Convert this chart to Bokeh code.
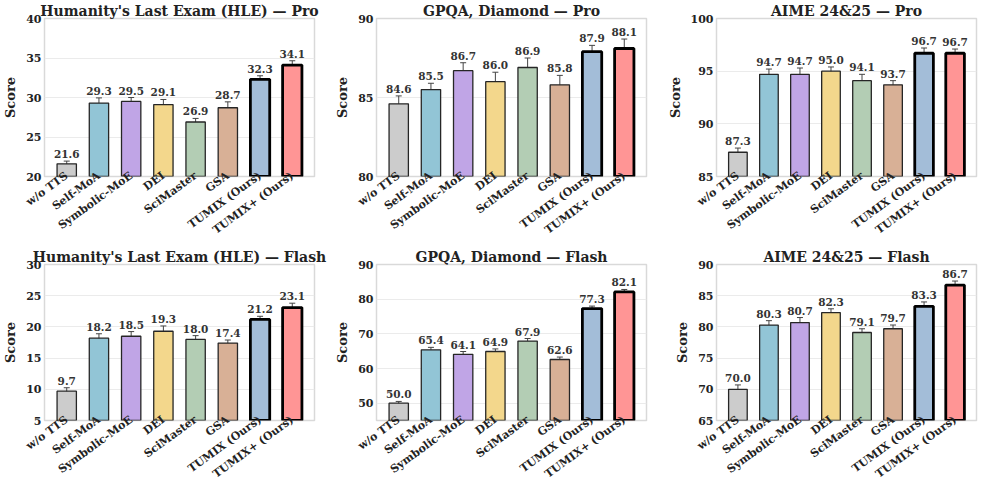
import math
from bokeh.plotting import figure
from bokeh.layouts import gridplot
from bokeh.models import Range1d, FixedTicker, Whisker, ColumnDataSource, TeeHead
from bokeh.core.properties import value
from bokeh.embed import file_html
from bokeh.resources import INLINE

methods = ["w/o TTS", "Self-MoA", "Symbolic-MoE", "DEI", "SciMaster", "GSA",
           "TUMIX (Ours)", "TUMIX+ (Ours)"]
colors = ["#cccccc", "#92c5d6", "#c0a5e6", "#f3d78c", "#b3cdb4", "#d8b096",
          "#a3bdd8", "#ff9595"]

hle_pro = [21.6, 29.3, 29.5, 29.1, 26.9, 28.7, 32.3, 34.1]
hle_pro_err = [0.35, 0.65, 0.5, 0.65, 0.45, 0.75, 0.45, 0.55]
gpqa_pro = [84.6, 85.5, 86.7, 86.0, 86.9, 85.8, 87.9, 88.1]
gpqa_pro_err = [0.5, 0.4, 0.5, 0.6, 0.6, 0.6, 0.4, 0.6]
aime_pro = [87.3, 94.7, 94.7, 95.0, 94.1, 93.7, 96.7, 96.7]
aime_pro_err = [0.4, 0.5, 0.6, 0.4, 0.6, 0.4, 0.5, 0.4]
hle_flash = [9.7, 18.2, 18.5, 19.3, 18.0, 17.4, 21.2, 23.1]
hle_flash_err = [0.55, 0.7, 0.75, 0.85, 0.6, 0.5, 0.5, 0.7]
gpqa_flash = [50.0, 65.4, 64.1, 64.9, 67.9, 62.6, 77.3, 82.1]
gpqa_flash_err = [0.5, 0.7, 0.8, 0.75, 0.75, 0.7, 0.7, 0.7]
aime_flash = [70.0, 80.3, 80.7, 82.3, 79.1, 79.7, 83.3, 86.7]
aime_flash_err = [0.7, 0.7, 0.8, 0.6, 0.6, 0.6, 0.7, 0.65]

panels = [
    ("Humanity's Last Exam (HLE) \u2014 Pro", hle_pro, hle_pro_err, (20, 40), [20, 25, 30, 35, 40]),
    ("GPQA, Diamond \u2014 Pro", gpqa_pro, gpqa_pro_err, (80, 90), [80, 85, 90]),
    ("AIME 24&25 \u2014 Pro", aime_pro, aime_pro_err, (85, 100), [85, 90, 95, 100]),
    ("Humanity's Last Exam (HLE) \u2014 Flash", hle_flash, hle_flash_err, (5, 30), [5, 10, 15, 20, 25, 30]),
    ("GPQA, Diamond \u2014 Flash", gpqa_flash, gpqa_flash_err, (45, 90), [50, 60, 70, 80, 90]),
    ("AIME 24&25 \u2014 Flash", aime_flash, aime_flash_err, (65, 90), [65, 70, 75, 80, 85, 90]),
]

FONT = "DejaVu Serif"
FONT_V = value(FONT)
widths = [332, 332, 315]
heights = [244, 244]
tops = [14, 20]
bottoms = [40, 40]
ANGLE = 0.63


def make_panel(idx, title, vals, errs, yr, yticks):
    r, c = divmod(idx, 3)
    p = figure(width=widths[c], height=heights[r], output_backend="svg",
               toolbar_location=None, x_range=Range1d(-0.69, 7.69),
               y_range=Range1d(*yr), min_border_left=38,
               min_border_right=18 if c < 2 else 3,
               min_border_top=tops[r], min_border_bottom=bottoms[r])
    xs = list(range(len(methods)))
    lw = [1.3] * 6 + [2.8, 2.8]
    lc = ["#262626"] * 6 + ["#000000", "#000000"]
    src = ColumnDataSource(dict(
        x=xs, top=vals, color=colors, lw=lw, lc=lc,
        upper=[v + e for v, e in zip(vals, errs)],
        lower=[v - e for v, e in zip(vals, errs)],
        label=["%.1f" % v for v in vals]))
    p.vbar(x="x", top="top", bottom=yr[0] - 10, width=0.6, fill_color="color",
           line_color="lc", line_width="lw", source=src)
    w = Whisker(base="x", upper="upper", lower="lower", source=src,
                line_color="#444444", line_width=1.0,
                upper_head=TeeHead(size=6, line_color="#444444", line_width=1.0),
                lower_head=TeeHead(size=6, line_color="#444444", line_width=1.0))
    p.add_layout(w)
    p.text(x="x", y="upper", text="label", source=src, text_align="center",
           text_baseline="bottom", y_offset=-3, text_font=FONT_V,
           text_font_style="bold", text_font_size="10.5px", text_color="#333333")

    p.title.text = title
    p.title.align = "center"
    p.title.text_font = FONT
    p.title.text_font_style = "bold"
    p.title.text_font_size = "14px"
    p.title.text_color = "#222222"
    p.title.standoff = 0

    p.xaxis.ticker = FixedTicker(ticks=xs)
    p.xaxis.major_label_overrides = {i: m for i, m in enumerate(methods)}
    p.xaxis.major_label_orientation = ANGLE
    p.xaxis.major_label_text_font = FONT
    p.xaxis.major_label_text_font_style = "bold"
    p.xaxis.major_label_text_font_size = "11px"
    p.xaxis.major_label_text_color = "#222222"
    p.xaxis.major_label_text_line_height = 0.5
    p.xaxis.major_label_standoff = -2
    p.yaxis.ticker = FixedTicker(ticks=yticks)
    p.yaxis.major_label_text_font = FONT
    p.yaxis.major_label_text_font_style = "bold"
    p.yaxis.major_label_text_font_size = "11px"
    p.yaxis.major_label_text_color = "#222222"
    p.yaxis.major_label_standoff = 3
    p.yaxis.axis_label = "Score"
    p.yaxis.axis_label_text_font = FONT
    p.yaxis.axis_label_text_font_style = "bold"
    p.yaxis.axis_label_text_font_size = "13px"
    p.yaxis.axis_label_text_color = "#222222"
    p.yaxis.axis_label_standoff = 5
    for ax in (p.xaxis, p.yaxis):
        ax.axis_line_color = None
        ax.major_tick_line_color = None
        ax.minor_tick_line_color = None
        ax.major_tick_out = 0
        ax.major_tick_in = 0
        ax.minor_tick_out = 0
        ax.minor_tick_in = 0
    p.xgrid.visible = False
    p.ygrid.grid_line_color = "#ebebeb"
    p.ygrid.grid_line_width = 1
    p.outline_line_color = "#d9d9d9"
    p.outline_line_width = 1.5
    p.outline_line_alpha = 1.0
    p.background_fill_color = "white"
    p.border_fill_color = "white"
    return p


figs = [make_panel(i, *pn) for i, pn in enumerate(panels)]
grid = gridplot([figs[:3], figs[3:]], toolbar_location=None)

open("out.html", "w").write(file_html(grid, INLINE))
